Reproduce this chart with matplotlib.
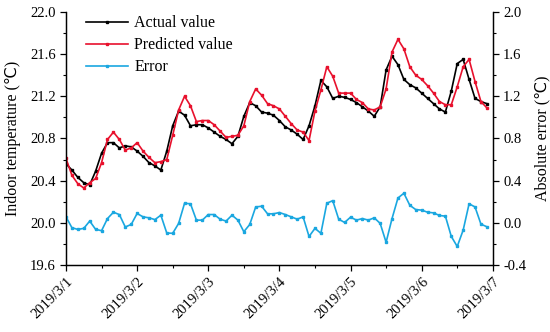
import matplotlib
matplotlib.use("Agg")
import matplotlib.pyplot as plt
import matplotlib.dates as mdates
from matplotlib.ticker import MultipleLocator, FuncFormatter
import pandas as pd

plt.rcParams["font.family"] = ["Liberation Serif", "DejaVu Sans"]
plt.rcParams["mathtext.fontset"] = "stix"

# 2-hourly samples, 2019/3/1 00:00 .. 2019/3/6 22:00
times = pd.date_range("2019-03-01 00:00", periods=72, freq="2h")

actual = [20.56, 20.50, 20.43, 20.38, 20.36, 20.49, 20.66, 20.76, 20.76, 20.71, 20.73, 20.72,
          20.68, 20.63, 20.57, 20.54, 20.50, 20.68, 20.92, 21.06, 21.02, 20.92, 20.93, 20.93,
          20.90, 20.86, 20.82, 20.79, 20.75, 20.82, 21.01, 21.14, 21.11, 21.05, 21.04, 21.02,
          20.97, 20.91, 20.88, 20.84, 20.79, 20.92, 21.11, 21.35, 21.29, 21.18, 21.20, 21.19,
          21.17, 21.14, 21.10, 21.06, 21.01, 21.10, 21.45, 21.58, 21.50, 21.36, 21.31, 21.28,
          21.23, 21.18, 21.13, 21.08, 21.05, 21.25, 21.51, 21.55, 21.36, 21.18, 21.15, 21.13]

predicted = [20.61, 20.45, 20.37, 20.33, 20.38, 20.42, 20.57, 20.79, 20.86, 20.79, 20.69, 20.71,
             20.76, 20.68, 20.62, 20.57, 20.58, 20.60, 20.83, 21.07, 21.20, 21.11, 20.96, 20.97,
             20.97, 20.93, 20.87, 20.81, 20.82, 20.83, 20.92, 21.15, 21.27, 21.21, 21.13, 21.11,
             21.08, 21.01, 20.94, 20.88, 20.86, 20.78, 21.06, 21.26, 21.48, 21.39, 21.23, 21.23,
             21.23, 21.17, 21.14, 21.08, 21.07, 21.10, 21.27, 21.62, 21.74, 21.65, 21.48, 21.40,
             21.36, 21.30, 21.23, 21.15, 21.12, 21.12, 21.29, 21.48, 21.55, 21.34, 21.15, 21.09]

error = [0.056, -0.047, -0.063, -0.053, 0.016, -0.063, -0.075, 0.040, 0.100, 0.078, -0.040, -0.016,
         0.088, 0.056, 0.047, 0.030, 0.072, -0.097, -0.100, -0.006, 0.185, 0.180, 0.025, 0.025,
         0.078, 0.078, 0.034, 0.016, 0.072, 0.025, -0.085, -0.016, 0.150, 0.157, 0.085, 0.085,
         0.097, 0.078, 0.056, 0.034, 0.056, -0.130, -0.053, -0.100, 0.185, 0.210, 0.034, 0.003,
         0.053, 0.025, 0.040, 0.025, 0.047, -0.006, -0.185, 0.040, 0.235, 0.280, 0.166, 0.125,
         0.120, 0.100, 0.094, 0.069, 0.063, -0.130, -0.225, -0.070, 0.180, 0.150, -0.013, -0.038]

C_ACT, C_PRED, C_ERR = "#000000", "#e8112d", "#1aa7e0"

fig = plt.figure(figsize=(5.5, 3.32), dpi=100)
ax = fig.add_axes([0.12, 0.202, 0.776, 0.762])
ax2 = ax.twinx()

kw = dict(lw=1.2, marker="s", ms=1.6)
h1, = ax.plot(times, actual, color=C_ACT, label="Actual value", **kw)
h2, = ax.plot(times, predicted, color=C_PRED, label="Predicted value", **kw)
h3, = ax2.plot(times, error, color=C_ERR, label="Error", **kw)

ax.set_xlim(pd.Timestamp("2019-03-01"), pd.Timestamp("2019-03-07"))
ax.set_ylim(19.6, 22.0)
ax2.set_ylim(-0.4, 2.0)
ax.yaxis.set_major_locator(MultipleLocator(0.4))
ax.yaxis.set_minor_locator(MultipleLocator(0.2))
ax2.yaxis.set_major_locator(MultipleLocator(0.4))
ax2.yaxis.set_minor_locator(MultipleLocator(0.2))
ax.yaxis.set_major_formatter(FuncFormatter(lambda v, p: f"{v:.1f}"))
ax2.yaxis.set_major_formatter(FuncFormatter(lambda v, p: f"{v:.1f}"))

ax.xaxis.set_major_locator(mdates.DayLocator())
ax.xaxis.set_minor_locator(mdates.HourLocator(byhour=[12]))
ax.xaxis.set_major_formatter(FuncFormatter(
    lambda v, p: (lambda d: f"{d.year}/{d.month}/{d.day}")(mdates.num2date(v))))
for lab in ax.get_xticklabels():
    lab.set_rotation(45)
    lab.set_ha("right")
    lab.set_rotation_mode("anchor")

for a in (ax, ax2):
    a.spines["top"].set_visible(False)
    a.tick_params(which="major", direction="out", length=4, width=0.9, labelsize=10.5)
    a.tick_params(which="minor", direction="out", length=2.2, width=0.8)
    for s in a.spines.values():
        s.set_linewidth(0.9)

ax.set_ylabel("Indoor temperature (℃)", fontsize=11.5, labelpad=6)
ax2.set_ylabel("Absolute error (℃)", fontsize=11.5, labelpad=6)

ax.legend(handles=[h1, h2, h3], loc="upper left", bbox_to_anchor=(0.025, 1.025),
          frameon=False, fontsize=11.5, handlelength=2.6, handletextpad=0.4,
          labelspacing=0.38, borderaxespad=0.2)

fig.savefig("out.png", dpi=100, facecolor="white")
